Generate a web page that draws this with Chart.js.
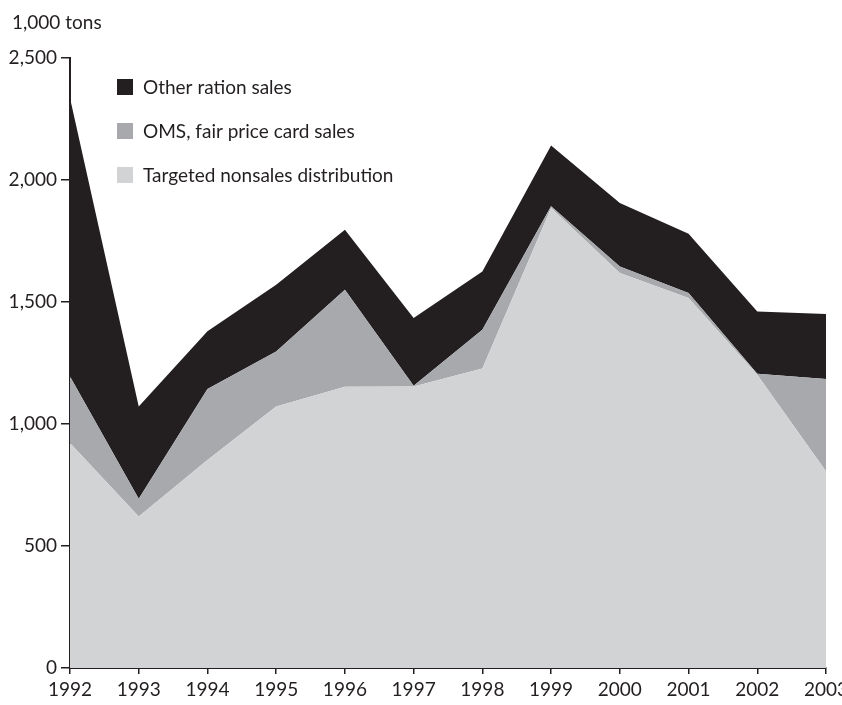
<!DOCTYPE html>
<html>
<head>
<meta charset="utf-8">
<script src="https://cdn.jsdelivr.net/npm/chart.js@4"></script>
<style>
  html, body { margin: 0; padding: 0; background: #fff; }
  #wrap { position: relative; width: 842px; height: 705px; }
  #unit { position: absolute; left: 12px; top: 10px; font: 19px Lato, sans-serif; color: #231f20; }
</style>
</head>
<body>
<div id="wrap">
  <div id="unit">1,000 tons</div>
  <canvas id="foodChart" width="842" height="705"></canvas>
</div>
<script>
const years = ['1992', '1993', '1994', '1995', '1996', '1997', '1998', '1999', '2000', '2001', '2002', '2003'];
const targeted = [922, 621, 852, 1072, 1153, 1154, 1227, 1885, 1619, 1516, 1202, 806];
const oms = [273, 73, 291, 225, 397, 3, 159, 7, 27, 21, 4, 378];
const otherRation = [1141, 378, 237, 274, 246, 277, 239, 249, 260, 243, 255, 267];
const yTicks = [0, 500, 1000, 1500, 2000, 2500];

const ink = '#231f20';
const font = { family: 'Lato, sans-serif', size: 19 };

// legend drawn inside the plot, top-left, with the dark series first
const legendInside = {
    id: 'legendInside',
    afterDraw(chart) {
        const ctx = chart.ctx;
        const items = chart.data.datasets.slice().reverse();
        ctx.save();
        ctx.font = '19px Lato, sans-serif';
        ctx.textBaseline = 'middle';
        items.forEach((ds, i) => {
            const cy = 87 + i * 44;
            ctx.fillStyle = ds.backgroundColor;
            ctx.fillRect(117, cy - 8, 16, 16);
            ctx.fillStyle = ink;
            ctx.fillText(ds.label, 143, cy + 1);
        });
        ctx.restore();
    }
};

const ctx = document.getElementById('foodChart').getContext('2d');
new Chart(ctx, {
    type: 'line',
    data: {
        labels: years,
        datasets: [
            { label: 'Targeted nonsales distribution', data: targeted, backgroundColor: '#d1d3d4', fill: 'origin' },
            { label: 'OMS, fair price card sales', data: oms, backgroundColor: '#a7a9ac', fill: '-1' },
            { label: 'Other ration sales', data: otherRation, backgroundColor: '#231f20', fill: '-1' }
        ].map(d => Object.assign(d, { borderWidth: 0, pointRadius: 0, tension: 0 }))
    },
    options: {
        responsive: false,
        animation: false,
        layout: { padding: { top: 58, right: 16, bottom: 0, left: 0 } },
        plugins: { legend: { display: false }, tooltip: { enabled: false } },
        scales: {
            x: {
                offset: false,
                grid: { drawOnChartArea: false, drawTicks: true, tickLength: 6, color: ink, lineWidth: 1.5 },
                border: { display: true, color: ink, width: 2 },
                ticks: { color: ink, font: font, padding: 4, maxRotation: 0, autoSkip: false },
                afterFit(scale) { scale.height = 37; scale.paddingLeft = 0; scale.paddingRight = 0; }
            },
            y: {
                stacked: true,
                min: 0,
                max: 2500,
                afterBuildTicks(scale) { scale.ticks = yTicks.map(v => ({ value: v })); },
                grid: { drawOnChartArea: false, drawTicks: true, tickLength: 9, color: ink, lineWidth: 1.5 },
                border: { display: true, color: ink, width: 2 },
                ticks: {
                    color: ink, font: font, padding: 4,
                    callback: v => v.toLocaleString('en-US')
                },
                afterFit(scale) { scale.width = 70; scale.paddingTop = 0; scale.paddingBottom = 0; }
            }
        }
    },
    plugins: [legendInside]
});
</script>
</body>
</html>
